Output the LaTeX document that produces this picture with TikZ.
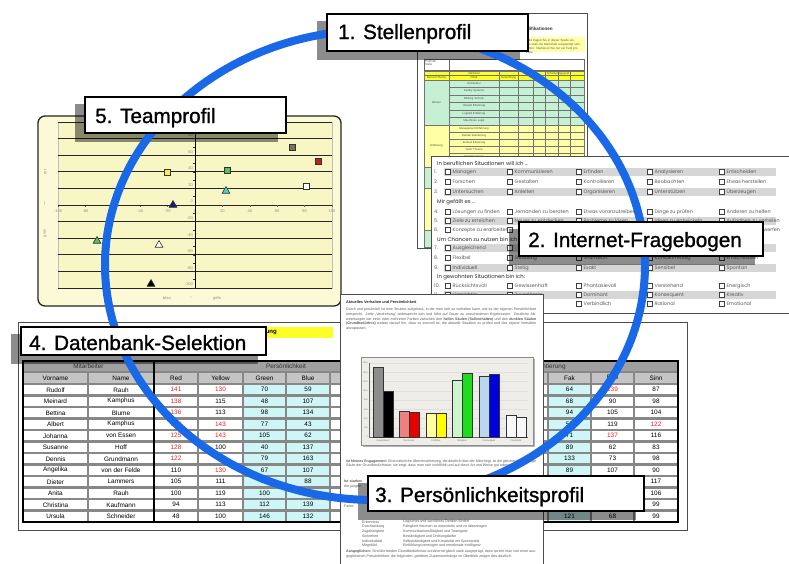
\documentclass[tikz,border=0pt]{standalone}
\usepackage{fontspec}
\setmainfont{Liberation Sans}
\newfontfamily\geofont{Poppins}
\newfontfamily\tagfont[FakeBold=1.1]{Liberation Sans}
\usetikzlibrary{shapes.geometric}
\pgfdeclarelayer{docs}
\pgfdeclarelayer{shade}
\pgfdeclarelayer{ringlayer}
\pgfsetlayers{docs,shade,ringlayer,main}

\definecolor{ringblue}{RGB}{24,104,232}
\definecolor{chartpaper}{RGB}{252,250,214}
\definecolor{plotpaper}{RGB}{249,246,198}
\definecolor{hdryellow}{RGB}{255,255,40}
\definecolor{softyellow}{RGB}{255,255,165}
\definecolor{softgreen}{RGB}{198,240,212}
\definecolor{cellcyan}{RGB}{206,246,246}
\definecolor{headgray}{RGB}{160,160,160}
\definecolor{subgray}{RGB}{196,196,196}
\definecolor{gapgray}{RGB}{135,135,135}
\definecolor{valred}{RGB}{232,32,32}
\definecolor{stripe}{RGB}{214,214,214}
\definecolor{panel}{RGB}{238,237,232}
\definecolor{bargray}{RGB}{140,140,140}
\definecolor{barpink}{RGB}{240,128,128}
\definecolor{barred}{RGB}{230,0,0}
\definecolor{barlyellow}{RGB}{255,255,160}
\definecolor{baryellow}{RGB}{255,255,0}
\definecolor{barlgreen}{RGB}{205,245,205}
\definecolor{bargreen}{RGB}{30,220,30}
\definecolor{barlblue}{RGB}{185,215,240}
\definecolor{barblue}{RGB}{0,0,220}
\definecolor{barwhite}{RGB}{248,248,248}
\definecolor{mkolive}{RGB}{120,115,90}
\definecolor{mkred}{RGB}{200,30,30}
\definecolor{mkyellow}{RGB}{245,240,80}
\definecolor{mkgreen}{RGB}{90,190,90}
\definecolor{mkcyan}{RGB}{80,210,200}
\definecolor{mknavy}{RGB}{25,25,130}

% values above 120 are printed in red
\newcommand\hv[1]{\ifnum#1>120 \textcolor{valred}{#1}\else #1\fi}
% one tick box with its answer
\newcommand\qitem[4]{%
  \draw[qbox] (#1-2.6,#2-2.6) rectangle (#1+2.6,#2+2.6);
  \node[qtxt] (#3) at (#1+4.5,#2) {#4};}
% a bare tick box
\newcommand\qtick[2]{\draw[qbox] (#1-2.6,#2-2.6) rectangle (#1+2.6,#2+2.6);}
% one numbered line of the questionnaire
\newcommand\qline[7]{%
  \node[qtxt] (q#2) at (434,#1) {#2.};
  \qitem{448}{#1}{q#2a}{#3}\qitem{510}{#1}{q#2b}{#4}%
  \qitem{579}{#1}{q#2c}{#5}\qitem{650}{#1}{q#2d}{#6}%
  \qitem{722}{#1}{q#2e}{#7}}

\tikzset{
  sheet/.style={draw=black!70, line width=0.8pt, fill=white},
  tagbox/.style={draw=black, line width=2.2pt, fill=white, inner sep=0pt, anchor=north west},
  tagtext/.style={font=\tagfont\fontsize{20.7}{21}\selectfont, inner sep=0pt, anchor=base west},
  tagshade/.style={fill=black, opacity=0.45},
  micro/.style={inner sep=0pt, text=black!65, font=\fontsize{3.6}{4.6}\selectfont},
  tinycell/.style={inner sep=0pt, text=black!70, font=\fontsize{2.8}{2.8}\selectfont},
  qtxt/.style={inner sep=0pt, text=black!65, font=\geofont\fontsize{4.9}{4.9}\selectfont, anchor=west},
  qhead/.style={inner sep=0pt, text=black!85, font=\geofont\fontsize{5.3}{5.3}\selectfont, anchor=west},
  qbox/.style={draw=black!75, line width=0.6pt, fill=white},
  sgrid/.style={draw=black!55, line width=0.4pt},
  celltxt/.style={inner sep=0pt, font=\fontsize{6.4}{6.4}\selectfont},
  axtxt/.style={inner sep=0pt, text=black!45, font=\fontsize{4}{4}\selectfont},
  sqm/.style={rectangle, draw=black!80, line width=0.7pt, minimum size=6pt, inner sep=0pt},
  trm/.style={regular polygon, regular polygon sides=3, draw=black!80, line width=0.6pt, minimum size=9pt, inner sep=0pt},
}

\begin{document}
\begin{tikzpicture}[x=1pt,y=-1pt]
\useasboundingbox (0,0) rectangle (789,563);

\begin{pgfonlayer}{docs}
\fill[white] (0,0) rectangle (789,563);

% ================= job profile sheet =================
\draw[sheet] (417,13) rectangle (587,248);
\node[micro, font=\fontsize{4.6}{4.6}\selectfont\bfseries, text=black!80, anchor=east] (sp-title) at (553,29) {Stellenprofil Qualifikationen};
\fill[softyellow] (524,37) rectangle (585,52);
\node[micro, font=\fontsize{3}{3.9}\selectfont, anchor=north west, text width=57pt, align=left] (sp-note) at (526,39) {Bitte tragen Sie in dieser Spalte ein, wie stark die Merkmale ausgeprägt sein sollen. Markieren Sie nur ein Feld pro Zeile.};
\draw[black!60, line width=0.5pt] (424,59) rectangle (584,70) (449,59) -- (449,70);
\node[tinycell, anchor=north west, align=left] (sp-prof) at (425,60.5) {Profil der\\Stelle};
\fill[hdryellow] (424,71) rectangle (584,80);
\fill[softgreen] (424,80) rectangle (584,125);
\fill[softyellow] (424,125) rectangle (584,167);
\fill[softgreen] (424,167) rectangle (584,188);
\fill[softyellow] (424,188) rectangle (584,230);
\fill[softgreen] (424,230) rectangle (584,247);
\foreach \xq in {424,449,499,518,533,545,558,570,584} \draw[sgrid] (\xq,71) -- (\xq,247);
\foreach \yq in {71,75.5,80,125,167,188,230,247} \draw[sgrid] (424,\yq) -- (584,\yq);
\foreach \yq in {87.5,95,102.5,110,117.5,132,139,146,153,160,174,181,195,202,209,216,223,238.5}
  \draw[sgrid] (449,\yq) -- (584,\yq);
\node[tinycell] (sp-h1) at (474,73.3) {Merkmal};
\node[tinycell] (sp-h2) at (558,73.3) {Anforderungsgrad};
\node[tinycell] (sp-h3) at (436.5,77.8) {Bereich/Thema};
\node[tinycell] (sp-h4) at (474,77.8) {Inhalt};
\node[tinycell] (sp-h5) at (508.5,77.8) {Gewichtung};
\node[tinycell] (sp-wis) at (436.5,102.5) {Wissen};
\node[tinycell] (sp-erf) at (436.5,146) {Erfahrung};
\foreach \tx [count=\k from 0] in {Architektur,Facility Systeme,Bildung Technik,Umwelt Erfahrung,Logistik Erfahrung,Maschinen Logik}
  \node[tinycell] (sp-a\k) at (474,83.75+7.5*\k) {\tx};
\foreach \tx [count=\k from 0] in {Management Erfahrung,Betrieb Zulieferung,Einkauf Erfahrung,Team Theorie,Projekt Leitung}
  \node[tinycell] (sp-b\k) at (474,128.5+7*\k) {\tx};

% ================= online questionnaire =================
\draw[sheet] (431,156) rectangle (800,313);
\foreach \yq in {172,192,221,248,268,295} \fill[stripe] (444,\yq-4.2) rectangle (776,\yq+4.2);
\node[qhead] (qh1) at (437,163) {In beruflichen Situationen will ich ...};
\qline{172}{1}{Managen}{Kommunizieren}{Erfinden}{Analysieren}{Entscheiden}
\qline{182}{2}{Forschen}{Gestalten}{Kontrollieren}{Beobachten}{Etwas herstellen}
\qline{192}{3}{Untersuchen}{Anleiten}{Organisieren}{Unterstützen}{Überzeugen}
\node[qhead] (qh2) at (437,202) {Mir gefällt es ...};
\qline{212}{4}{Lösungen zu finden}{Jemanden zu beraten}{Etwas voranzutreiben}{Dinge zu prüfen}{Anderen zu helfen}
\qline{221}{5}{Ziele zu erreichen}{Neues zu entdecken}{Probleme zu lösen}{Ideen zu entwickeln}{Aufgaben zu verteilen}
\node[qtxt] (q6) at (434,230) {6.};
\qitem{448}{230}{q6a}{Konzepte zu erarbeiten}
\qtick{510}{230}\qtick{579}{230}\qtick{650}{230}
\qitem{722}{230}{q6e}{Visionen zu entwerfen}
\node[qhead] (qh3) at (437,239) {Um Chancen zu nutzen bin ich ...};
\node[qtxt] (q7) at (434,248) {7.};
\qitem{448}{248}{q7a}{Ausgleichend}
\qtick{510}{248}\qtick{579}{248}\qtick{650}{248}\qtick{722}{248}
\qline{258}{8}{Flexibel}{Geduldig}{Gründlich}{Kontaktfreudig}{Entschlossen}
\qline{268}{9}{Individuell}{Stetig}{Exakt}{Sensibel}{Spontan}
\node[qhead] (qh4) at (437,277) {In gewohnten Situationen bin ich:};
\qline{286}{10}{Rücksichtsvoll}{Gewissenhaft}{Phantasievoll}{Verstehend}{Energisch}
\qline{295}{11}{Vorsichtig}{Zuverlässig}{Dominant}{Konsequent}{Kreativ}
\qline{304}{12}{Sachlich}{Ruhig}{Verbindlich}{Rational}{Emotional}

% ================= team chart =================
\draw[black!85, line width=1.3pt, fill=chartpaper, rounded corners=7pt] (38,116) rectangle (341,306);
\draw[black!25, fill=plotpaper] (58,122) rectangle (332,288);
\foreach \k in {0,...,10} {
  \draw[black!85, line width=0.8pt] (58,122+16.6*\k) -- (332,122+16.6*\k);
  \pgfmathtruncatemacro\tickh{-100+20*\k}
  \node[axtxt] (tx\k) at (58+27.4*\k,211) {\tickh};
  \draw[black!60, line width=0.5pt] (58+27.4*\k,205) -- (58+27.4*\k,207);
}
\foreach \k in {1,...,10} {
  \pgfmathtruncatemacro\tickv{100-20*\k}
  \node[axtxt, anchor=east] (ty\k) at (193,122+16.6*\k-3.5) {\tickv};
}
\draw[black, line width=0.9pt] (195,122) -- (195,288);
\foreach \k in {0,...,20} \draw[black!80, line width=0.5pt] (193,122+8.3*\k) -- (195,122+8.3*\k);
\node[axtxt, rotate=90] (ax-rot) at (45,172) {rot};
\node[axtxt] (ax-mid) at (45,203) {|};
\node[axtxt, rotate=90] (ax-gruen) at (45,233) {grün};
\node[axtxt] (ax-blau) at (167,298) {blau};
\node[axtxt] (ax-dash) at (191,298) {--};
\node[axtxt] (ax-gelb) at (217,298) {gelb};
\node[sqm, fill=mkolive] (m1) at (292,147) {};
\node[sqm, fill=mkred] (m2) at (318,161) {};
\node[sqm, fill=mkyellow] (m3) at (167,172) {};
\node[sqm, fill=mkgreen] (m4) at (227,170) {};
\node[sqm, fill=white] (m5) at (306,186) {};
\node[trm, fill=mkcyan] (m6) at (226,191) {};
\node[trm, fill=mknavy] (m7) at (173,205) {};
\node[trm, fill=mkgreen] (m8) at (97,241) {};
\node[trm, fill=white] (m9) at (159,245) {};
\node[trm, fill=black] (m10) at (151,284) {};

% ================= database selection sheet =================
\draw[sheet] (18,322) rectangle (687,530);
\fill[hdryellow] (200,327) rectangle (333,338);
\node[inner sep=0pt, font=\fontsize{6}{6}\selectfont\bfseries, anchor=east] (db-head) at (277,332.5) {Auswertung};
\fill[gapgray] (23,361) rectangle (678,522);
\foreach \xa/\xb/\hname [count=\j] in {23/154/Mitarbeiter,154/418/Persönlichkeit,418/678/Orientierung}{
  \fill[headgray] (\xa+1.2,362.2) rectangle (\xb-1.2,370.8);
  \node[celltxt, text=black!80] (dbh\j) at ({(\xa+\xb)/2},366.5) {\hname};
}
\foreach \xa/\xb/\cfill in {23/88/white,88/154/white,154/198/white,198/243/white,243/286/cellcyan,286/330/cellcyan,330/374/white,374/418/white,418/462/white,462/506/white,506/548/white,548/591/cellcyan,591/634/white,634/678/white}{
  \fill[subgray] (\xa+1.2,373.2) rectangle (\xb-1.2,382.8);
  \foreach \i in {0,...,11}
    \fill[\cfill] (\xa+1.2,384+11.5*\i+1.2) rectangle (\xb-1.2,384+11.5*\i+10.3);
}
\foreach \xc/\hname [count=\j] in {55.5/Vorname,121/Name,176/Red,220.5/Yellow,264.5/Green,308/Blue,569.5/Fak,612.5/Ego,656/Sinn}
  \node[celltxt] (dbc\j) at (\xc,378) {\hname};
\foreach \cA/\cB/\cC/\cD/\cE/\cF/\cG/\cH/\cI [count=\i from 0] in {
  Rudolf/Rauh/141/130/70/59/64/139/87,
  Meinard/Kamphus/138/115/48/107/68/90/98,
  Bettina/Blume/136/113/98/134/94/105/104,
  Albert/Kamphus/134/143/77/43/57/119/122,
  Johanna/von Essen/125/143/105/62/71/137/116,
  Susanne/Hoff/128/100/40/137/89/62/83,
  Dennis/Grundmann/122/97/79/163/133/73/98,
  Angelika/von der Felde/110/130/67/107/89/107/90,
  Dieter/Lammers/105/111/94/88/0/0/117,
  Anita/Rauh/100/119/100/101/0/0/106,
  Christina/Kaufmann/94/113/112/139/0/0/99,
  Ursula/Schneider/48/100/146/132/121/68/99}{
  \pgfmathsetmacro\yc{384+11.5*\i+5.75}
  \node[celltxt] (db\i-vn) at (55.5,\yc) {\cA};
  \node[celltxt] (db\i-nn) at (121,\yc) {\cB};
  \node[celltxt] (db\i-r) at (176,\yc) {\hv{\cC}};
  \node[celltxt] (db\i-y) at (220.5,\yc) {\hv{\cD}};
  \node[celltxt] (db\i-g) at (264.5,\yc) {\cE};
  \node[celltxt] (db\i-b) at (308,\yc) {\cF};
  \ifnum\cG>0 \node[celltxt] (db\i-f) at (569.5,\yc) {\cG};\fi
  \ifnum\cH>0 \node[celltxt] (db\i-e) at (612.5,\yc) {\hv{\cH}};\fi
  \node[celltxt] (db\i-s) at (656,\yc) {\hv{\cI}};
}
\draw[black, line width=2pt] (23,361) rectangle (678,522);
\draw[black, line width=2pt] (154,361) -- (154,522) (418,361) -- (418,522);

% ================= personality profile sheet =================
\draw[sheet] (340,294) rectangle (543,575);
\node[micro, font=\fontsize{3.8}{3.8}\selectfont\bfseries, text=black!85, anchor=west] (pd-title) at (346,302) {Aktuelles Verhalten und Persönlichkeit};
\node[micro, anchor=north west, text width=190pt, align=justify] (pd-p1) at (346,308) {Durch und persönlich ist eine Struktur aufgebaut, in der man sich so verhalten kann, wie es der eigenen Persönlichkeit entspricht. Jede „Verdrehung“ widerspricht sich und führt auf Dauer zu unzufriedenen Ergebnissen. Deutliche Abweichungen bei einer oder mehreren Farben zwischen den \textbf{hellen Säulen (Sollverhalten)} und den \textbf{dunklen Säulen (Grundbedürfnis)} weisen darauf hin, dass es sinnvoll ist, die aktuelle Situation zu prüfen und das eigene Verhalten anzupassen.};
\fill[black!30] (363,359) rectangle (535,447);
\draw[black!45, fill=panel, line width=0.6pt] (361,357) rectangle (533,445);
\foreach \k in {0,...,8} {
  \draw[black!12, line width=0.4pt] (369,363+9.25*\k) -- (528,363+9.25*\k);
  \pgfmathtruncatemacro\barv{1600-200*\k}
  \node[inner sep=0pt, text=black!50, font=\fontsize{2.2}{2.2}\selectfont, anchor=east] (pd-y\k) at (368,363+9.25*\k) {\barv};
}
\draw[black!60, line width=0.5pt] (369,363) -- (369,437) -- (528,437);
\foreach \xa/\ytop/\cfill in {373/367/bargray,383/391/black,399/411/barpink,409/412/barred,426/413/barlyellow,436/413/baryellow,452/380/barlgreen,462/373/bargreen,479/376/barlblue,489/374/barblue,506/415/barwhite,516/417/barwhite}
  \filldraw[fill=\cfill, draw=black!80, line width=0.5pt] (\xa,\ytop) rectangle (\xa+10,437);
\foreach \xc/\tx [count=\j] in {383/Gesamtwert,409/Dominanz,436/Initiative,462/Stetigkeit,489/Genauigkeit,516/Flexibilität}
  \node[inner sep=0pt, text=black!55, font=\fontsize{2.4}{2.4}\selectfont] (pd-x\j) at (\xc,441) {\tx};
\node[micro, anchor=north west, text width=190pt, align=justify] (pd-p2) at (346,459) {\textbf{Ist kleines Engagement:} Eine natürliche Übereinstimmung, die deutlich über der Mitte liegt, ist die gleichmäßige, ruhige Säule der Grundbedürfnisse; sie zeigt, dass man sich wohlfühlt und auf diese Art und Weise gut arbeiten kann.};
\node[micro, anchor=north west, text width=20pt, align=left] (pd-p3) at (344,480) {\textbf{Ist starkes} die jungen};
\node[micro, anchor=north west, text width=20pt, align=left] (pd-p4) at (344,500) {Dominante Farbe};
\foreach \la/\lb [count=\j from 0] in {Erkenntnis/Logisches und sachliches Denken fördert,Durchsetzung/Fähigkeit Visionen zu entwickeln und zu überzeugen,Zugehörigkeit/Kommunikationsfähigkeit und Teamgeist,Sicherheit/Beständigkeit und Ordnungsliebe,Individualität/Selbstständigkeit und Kreativität mit Spontanität,Mitgefühl/Einfühlungsvermögen und emotionale Intelligenz}{
  \node[micro, anchor=west] (pd-la\j) at (362,522+4.8*\j) {\la};
  \node[micro, anchor=west] (pd-lb\j) at (403,522+4.8*\j) {\lb};
}
\node[micro, anchor=north west, text width=190pt, align=justify] (pd-p5) at (346,550) {\textbf{Ausgeglichen:} Sind die beiden Grundbedürfnisse annähernd gleich stark ausgeprägt, dann spricht man von einer ausgeglichenen Persönlichkeit; die folgenden, gelebten Zusammenhänge im Überblick zeigen dies deutlich.};
\end{pgfonlayer}

% ================= step labels =================
\node[tagbox, minimum width=201pt, minimum height=37pt] (lab1) at (326,13) {};
\node[tagtext] (lab1t) at (338,39) {1. Stellenprofil};
\node[tagbox, minimum width=244pt, minimum height=34pt] (lab2) at (518,221) {};
\node[tagtext] (lab2t) at (528,247) {2. Internet-Fragebogen};
\node[tagbox, minimum width=276pt, minimum height=35pt] (lab3) at (367,475) {};
\node[tagtext] (lab3t) at (375,502) {3. Persönlichkeitsprofil};
\node[tagbox, minimum width=245pt, minimum height=28pt] (lab4) at (20,326) {};
\node[tagtext] (lab4t) at (29,350) {4. Datenbank-Selektion};
\node[tagbox, minimum width=201pt, minimum height=36pt] (lab5) at (84,96) {};
\node[tagtext] (lab5t) at (95,123) {5. Teamprofil};

\begin{pgfonlayer}{shade}
\foreach \n in {lab1,lab2,lab3,lab4,lab5}
  \fill[tagshade] ([shift={(-9pt,-8pt)}]\n.north west) rectangle ([shift={(-9pt,-8pt)}]\n.south east);
\end{pgfonlayer}

% ================= the cycle ring =================
\begin{pgfonlayer}{ringlayer}
\draw[ringblue, line width=8pt] (375,265) ellipse [x radius=270pt, y radius=235pt];
\end{pgfonlayer}
\end{tikzpicture}
\end{document}
